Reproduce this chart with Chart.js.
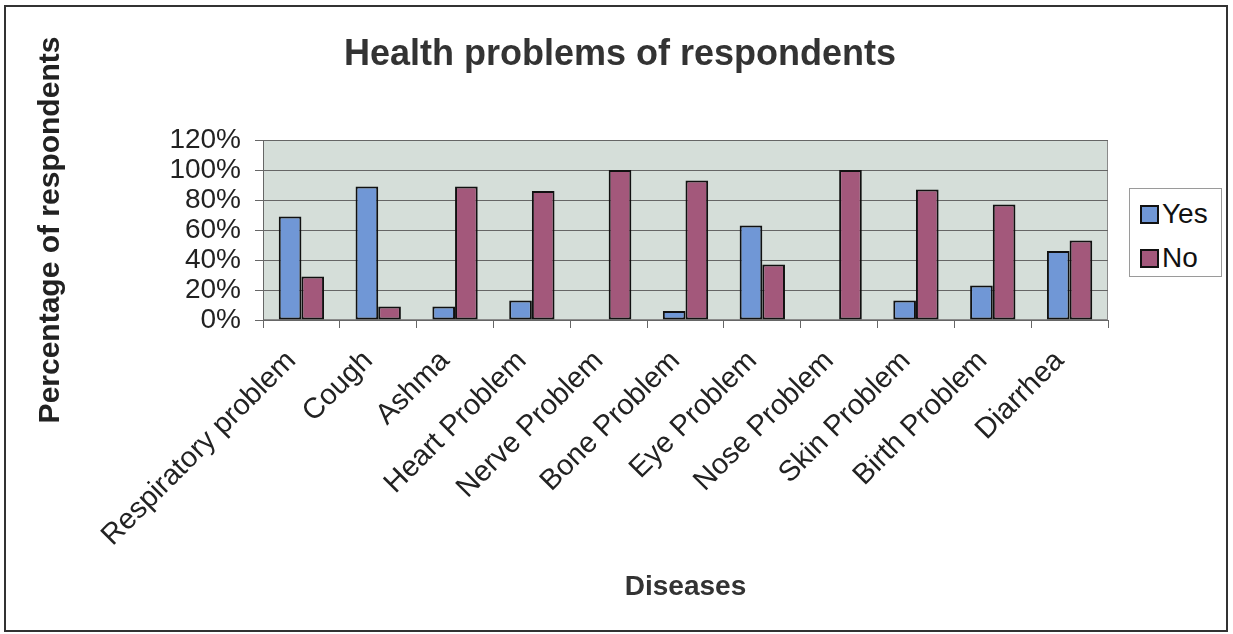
<!DOCTYPE html>
<html>
<head>
<meta charset="utf-8">
<script src="https://cdn.jsdelivr.net/npm/chart.js@4/dist/chart.umd.min.js"></script>
<style>
  html, body { margin: 0; padding: 0; background: #fff; }
  #wrap { position: relative; width: 1233px; height: 634px; }
  #legend {
    position: absolute; left: 1129px; top: 188px; width: 93px; height: 89px;
    border: 1px solid #9a9a9a; background: #fff; box-sizing: border-box;
    font-family: "Liberation Sans", Arial, sans-serif; font-size: 28px; color: #111;
  }
  #legend .row { position: absolute; left: 10px; height: 30px; line-height: 30px; }
  #legend .sw { display: inline-block; width: 15px; height: 15px; border: 2px solid #111; vertical-align: -1px; margin-right: 3px; }
</style>
</head>
<body>
<div id="wrap">
  <canvas id="barChart" width="1233" height="634"></canvas>
  <div id="legend"></div>
</div>
<script>
// data
var diseases = ["Respiratory problem", "Cough", "Ashma", "Heart Problem", "Nerve Problem",
  "Bone Problem", "Eye Problem", "Nose Problem", "Skin Problem", "Birth Problem", "Diarrhea"];
var yesValues = [69, 89, 9, 13, 0, 6, 63, 0, 13, 23, 46];
var noValues = [29, 9, 89, 86, 100, 93, 37, 100, 87, 77, 53];
var seriesNames = ["Yes", "No"];
var seriesColors = ["#7097d6", "#a3587b"];
var chartTitle = 'Health problems of respondents';

var FONT = "'Liberation Sans', Arial, sans-serif";

// plot background, outer frame and the title (sits left of centre like the original)
var framePlugin = {
  id: 'frame',
  beforeDraw: function(chart) {
    var c = chart.ctx, a = chart.chartArea;
    c.save();
    c.fillStyle = '#d5ded9';
    c.fillRect(a.left, a.top, a.right - a.left, a.bottom - a.top);
    c.strokeStyle = '#8a8a8a';
    c.lineWidth = 1;
    c.strokeRect(a.left + 0.5, a.top + 0.5, a.right - a.left - 1, a.bottom - a.top - 1);
    c.restore();
  },
  afterDraw: function(chart) {
    var c = chart.ctx;
    c.save();
    c.strokeStyle = '#333';
    c.lineWidth = 2;
    c.strokeRect(5, 6, 1222, 625);
    c.fillStyle = '#333';
    c.font = 'bold 36px ' + FONT;
    c.textAlign = 'center';
    c.textBaseline = 'middle';
    c.fillText(chartTitle, 620, 55);
    c.restore();
  }
};

var ctx = document.getElementById("barChart").getContext('2d');
var chart = new Chart(ctx, {
  type: 'bar',
  data: {
    labels: diseases,
    datasets: [{
      label: seriesNames[0],
      data: yesValues,
      backgroundColor: seriesColors[0],
      borderColor: '#111',
      borderWidth: 2,
      borderSkipped: false
    }, {
      label: seriesNames[1],
      data: noValues,
      backgroundColor: seriesColors[1],
      borderColor: '#111',
      borderWidth: 2,
      borderSkipped: false
    }]
  },
  options: {
    responsive: false,
    animation: false,
    devicePixelRatio: 1,
    layout: { padding: { left: 23, right: 125, top: 140, bottom: 20 } },
    datasets: { bar: { categoryPercentage: 0.59, barPercentage: 1.0 } },
    plugins: {
      legend: { display: false },
      tooltip: { enabled: false },
      title: { display: false }
    },
    scales: {
      x: {
        afterFit: function(s) { s.height = 294; },
        grid: { display: true, drawOnChartArea: false, drawTicks: true, tickLength: 8, color: '#666', offset: true },
        border: { display: true, color: '#666', width: 1 },
        ticks: {
          minRotation: 45, maxRotation: 45, autoSkip: false,
          color: '#222', padding: 16, labelOffset: -10,
          font: { family: FONT, size: 29 }
        },
        title: {
          display: true, text: 'Diseases', color: '#333',
          font: { family: FONT, size: 28, weight: 'bold' },
          padding: { top: 0, bottom: 10 }
        }
      },
      y: {
        min: 0, max: 120,
        afterFit: function(s) { s.width = 240; },
        grid: { color: '#666', lineWidth: 1, tickLength: 8 },
        border: { display: true, color: '#666', width: 1 },
        ticks: {
          stepSize: 20, autoSkip: false, color: '#222', padding: 14,
          font: { family: FONT, size: 28 },
          callback: function(v) { return v + '%'; }
        },
        title: {
          display: true, text: 'Percentage of respondents', color: '#222',
          font: { family: FONT, size: 30, weight: 'bold' },
          padding: { top: 10, bottom: 0 }
        }
      }
    }
  },
  plugins: [framePlugin]
});

// legend built from the series names
var leg = document.getElementById('legend');
seriesNames.forEach(function(name, i) {
  var row = document.createElement('div');
  row.className = 'row';
  row.style.top = (10 + i * 44) + 'px';
  row.innerHTML = '<span class="sw" style="background:' + seriesColors[i] + '"></span>' + name;
  leg.appendChild(row);
});
</script>
</body>
</html>
